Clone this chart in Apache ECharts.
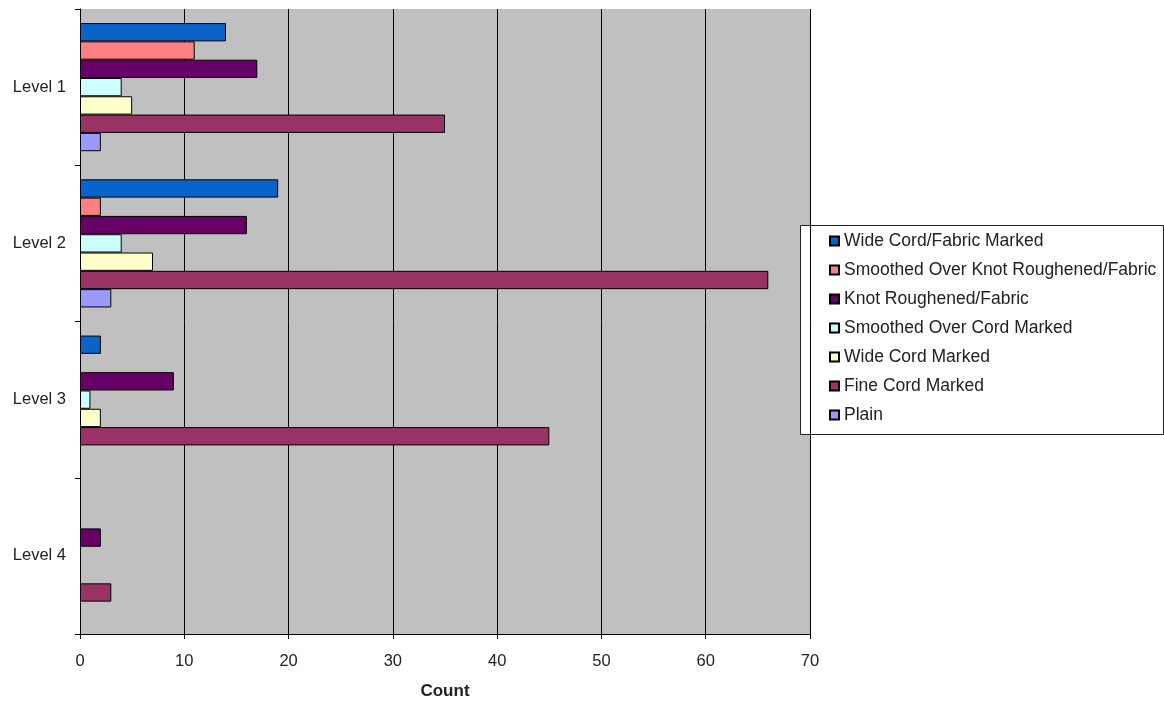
<!DOCTYPE html>
<html><head><meta charset="utf-8">
<script src="https://cdn.jsdelivr.net/npm/echarts@6/dist/echarts.min.js"></script>
<style>html,body{margin:0;padding:0;background:#fff;}#c{width:1164px;height:705px;}</style>
</head><body><div id="c"></div>
<script>
const categories = ['Level 1', 'Level 2', 'Level 3', 'Level 4'];
const seriesNames = ['Wide Cord/Fabric Marked', 'Smoothed Over Knot Roughened/Fabric', 'Knot Roughened/Fabric', 'Smoothed Over Cord Marked', 'Wide Cord Marked', 'Fine Cord Marked', 'Plain'];
const wideCordFabric = [14, 19, 2, 0];
const smoothedKnot = [11, 2, 0, 0];
const knotRoughened = [17, 16, 9, 2];
const smoothedCord = [4, 4, 1, 0];
const wideCord = [5, 7, 2, 0];
const fineCord = [35, 66, 45, 3];
const plain = [2, 3, 0, 0];
const xTicks = [0, 10, 20, 30, 40, 50, 60, 70];
const colors = ['#0A63C9', '#FF8080', '#660066', '#CCFFFF', '#FFFFCC', '#993366', '#9999FF'];
const values = [wideCordFabric, smoothedKnot, knotRoughened, smoothedCord, wideCord, fineCord, plain];

const chart = echarts.init(document.getElementById('c'), null, {renderer: 'canvas'});
const font = 'Liberation Sans, Arial, sans-serif';
chart.setOption({
  animation: false,
  backgroundColor: '#ffffff',
  textStyle: {fontFamily: font},
  grid: {left: 80, top: 9, right: 354, bottom: 70, show: true, backgroundColor: '#C0C0C0', borderWidth: 0},
  graphic: [{
    type: 'rect', left: 800, top: 225, z: 0,
    shape: {width: 363, height: 209},
    style: {fill: '#fff', stroke: '#222', lineWidth: 1}
  }],
  legend: {
    orient: 'vertical', left: 829, top: 231,
    data: seriesNames,
    padding: 0,
    itemWidth: 9, itemHeight: 9, itemGap: 9,
    icon: 'rect',
    textStyle: {fontFamily: font, fontSize: 17.5, lineHeight: 20, color: '#222', padding: [0, 0, 0, 0]}
  },
  xAxis: {
    type: 'value', min: xTicks[0], max: xTicks[xTicks.length - 1], interval: 10,
    name: 'Count', nameLocation: 'middle', nameGap: 49,
    nameTextStyle: {fontFamily: font, fontSize: 17, fontWeight: 'bold', color: '#222'},
    axisLine: {show: true, lineStyle: {color: '#000', width: 1}},
    axisTick: {show: true, length: 5, lineStyle: {color: '#000'}},
    axisLabel: {fontFamily: font, fontSize: 16.5, color: '#222', margin: 19},
    splitLine: {show: true, lineStyle: {color: '#000', width: 1}}
  },
  yAxis: {
    type: 'category', data: categories, inverse: true,
    axisLine: {show: true, lineStyle: {color: '#000', width: 1}},
    axisTick: {show: true, length: 5, lineStyle: {color: '#000'}},
    axisLabel: {fontFamily: font, fontSize: 16.5, color: '#222', margin: 14},
    splitLine: {show: false}
  },
  series: seriesNames.map((n, i) => ({
    name: n, type: 'bar', data: values[i].map(v => v === 0 ? null : v),
    barGap: '0%', barCategoryGap: '18%',
    itemStyle: {color: colors[i], borderColor: '#000', borderWidth: 1}
  }))
});
</script></body></html>
